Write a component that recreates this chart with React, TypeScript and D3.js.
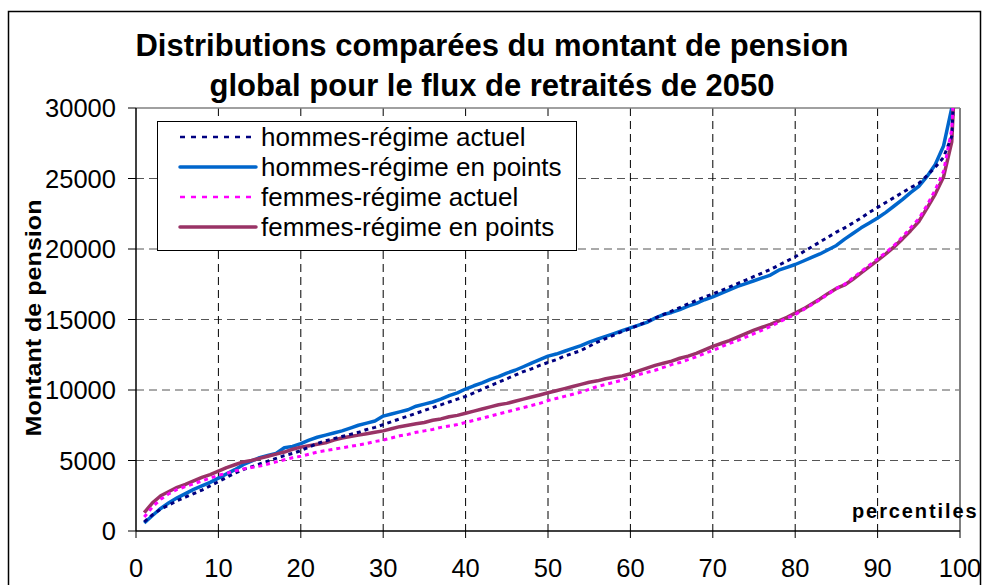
import React from "react";
import * as d3 from "d3";

const percentiles = [
  1, 2, 3, 4, 5, 6, 7, 8, 9, 10, 11, 12, 13, 14, 15, 16, 17, 18, 19, 20,
  21, 22, 23, 24, 25, 26, 27, 28, 29, 30, 31, 32, 33, 34, 35, 36, 37, 38, 39, 40,
  41, 42, 43, 44, 45, 46, 47, 48, 49, 50, 51, 52, 53, 54, 55, 56, 57, 58, 59, 60,
  61, 62, 63, 64, 65, 66, 67, 68, 69, 70, 71, 72, 73, 74, 75, 76, 77, 78, 79, 80,
  81, 82, 83, 84, 85, 86, 87, 88, 89, 90, 91, 92, 93, 94, 95, 96, 97, 98, 99, 100,
];

const hommesActuel = [
  650, 1150, 1550, 1850, 2150, 2400, 2650, 2900, 3200, 3500,
  3800, 4100, 4350, 4550, 4750, 4950, 5150, 5350, 5500, 5700,
  5950, 6200, 6400, 6550, 6700, 6850, 7000, 7200, 7350, 7550,
  7750, 7950, 8150, 8350, 8550, 8750, 8950, 9150, 9350, 9550,
  9800, 10050, 10300, 10550, 10800, 11050, 11300, 11500, 11750, 11950,
  12150, 12400, 12600, 12800, 13100, 13400, 13650, 13900, 14150, 14350,
  14600, 14850, 15100, 15350, 15600, 15850, 16100, 16350, 16600, 16800,
  17050, 17300, 17550, 17800, 18050, 18300, 18550, 18850, 19150, 19450,
  19800, 20150, 20500, 20850, 21200, 21500, 21850, 22200, 22600, 22950,
  23300, 23650, 24000, 24350, 24650, 25200, 25800, 26500, 28000, 40000,
];

const hommesPoints = [
  570, 1100, 1600, 2000, 2350, 2650, 2950, 3200, 3450, 3750,
  4050, 4350, 4700, 4950, 5200, 5350, 5500, 5900, 6000, 6200,
  6450, 6650, 6800, 6950, 7100, 7300, 7500, 7650, 7800, 8150,
  8300, 8450, 8600, 8850, 9000, 9150, 9350, 9600, 9800, 10070,
  10300, 10500, 10750, 10950, 11200, 11400, 11650, 11900, 12150, 12400,
  12550, 12750, 12950, 13150, 13400, 13600, 13800, 14000, 14200, 14400,
  14600, 14800, 15100, 15350, 15500, 15700, 15950, 16150, 16400, 16600,
  16850, 17100, 17350, 17550, 17750, 17950, 18150, 18500, 18700, 18900,
  19150, 19400, 19650, 19950, 20250, 20700, 21100, 21500, 21850, 22200,
  22600, 23050, 23500, 24000, 24450, 25150, 26000, 27300, 30000, 45000,
];

const femmesActuel = [
  990, 1700, 2250, 2650, 2950, 3150, 3350, 3550, 3750, 3950,
  4100, 4250, 4400, 4500, 4600, 4750, 4900, 5050, 5200, 5300,
  5450, 5600, 5700, 5800, 5900, 6000, 6100, 6200, 6350, 6450,
  6600, 6750, 6850, 7000, 7100, 7200, 7350, 7450, 7550, 7700,
  7850, 8000, 8150, 8300, 8450, 8600, 8750, 8900, 9050, 9250,
  9400, 9550, 9700, 9850, 10050, 10250, 10400, 10550, 10700, 10900,
  11100, 11250, 11400, 11600, 11800, 11950, 12150, 12350, 12600, 12800,
  13050, 13300, 13500, 13750, 14000, 14250, 14500, 14800, 15100, 15350,
  15700, 16050, 16400, 16800, 17200, 17500, 17950, 18400, 18850, 19300,
  19750, 20250, 20850, 21500, 22150, 23100, 24200, 25500, 28500, 40000,
];

const femmesPoints = [
  1300, 2000, 2500, 2800, 3100, 3300, 3550, 3800, 4000, 4250,
  4500, 4700, 4900, 5000, 5150, 5300, 5450, 5600, 5800, 5950,
  6050, 6150, 6250, 6450, 6600, 6700, 6800, 6900, 7000, 7100,
  7250, 7400, 7500, 7600, 7700, 7850, 7950, 8100, 8200, 8350,
  8500, 8650, 8800, 8950, 9050, 9200, 9350, 9500, 9650, 9800,
  9950, 10100, 10250, 10400, 10550, 10650, 10800, 10900, 11000, 11150,
  11350, 11550, 11750, 11900, 12050, 12250, 12400, 12600, 12850, 13100,
  13300, 13500, 13750, 14000, 14250, 14450, 14650, 14900, 15150, 15450,
  15750, 16100, 16450, 16850, 17200, 17450, 17850, 18300, 18750, 19200,
  19650, 20150, 20700, 21300, 21950, 22900, 23900, 25100, 27600, 40000,
];

const xTicks = [0, 10, 20, 30, 40, 50, 60, 70, 80, 90, 100];
const yTicks = [0, 5000, 10000, 15000, 20000, 25000, 30000];

const titleLines = [
  "Distributions comparées du montant de pension",
  "global pour le flux de retraités de 2050",
];
const yAxisTitle = "Montant de pension";
const xAxisTitle = "percentiles";

const seriesNames = [
  "hommes-régime actuel",
  "hommes-régime en points",
  "femmes-régime actuel",
  "femmes-régime en points",
];
const seriesValues = [hommesActuel, hommesPoints, femmesActuel, femmesPoints];
const seriesColors = ["#000080", "#0066CC", "#FF00FF", "#993366"];
const seriesDashed = [true, false, true, false];

const W = 983;
const H = 585;
const L = 136;
const R = 960;
const T = 108;
const B = 531;
const FONT = "Liberation Sans, Arial, sans-serif";

export default function App() {
  const x = d3.scaleLinear().domain([0, 100]).range([L, R]);
  const y = d3.scaleLinear().domain([0, 30000]).range([B, T]);
  const line = d3
    .line<number>()
    .x((_, i) => x(percentiles[i]))
    .y((d) => y(d));

  const drawOrder = [1, 3, 0, 2];

  return (
    <svg
      width={W}
      height={H}
      style={{ position: "absolute", left: 0, top: 0, background: "#fff" }}
      fontFamily={FONT}
    >
      <defs>
        <clipPath id="plotClip">
          <rect x={L} y={T} width={R - L + 4} height={B - T} />
        </clipPath>
      </defs>
      <rect x={0} y={0} width={W} height={H} fill="#fff" />
      <rect x={8.5} y={11.5} width={972} height={590} fill="none" stroke="#000" strokeWidth={1.5} />

      {titleLines.map((t, i) => (
        <text
          key={i}
          x={492}
          y={56 + i * 40}
          textAnchor="middle"
          fontWeight="bold"
          fontSize={31}
          fill="#000"
        >
          {t}
        </text>
      ))}

      {yTicks
        .filter((v) => v > 0 && v < 30000)
        .map((v) => (
          <line
            key={"hg" + v}
            x1={L}
            x2={R}
            y1={y(v)}
            y2={y(v)}
            stroke="#555"
            strokeWidth={1}
            strokeDasharray="8,5"
          />
        ))}
      {xTicks
        .filter((v) => v > 0 && v < 100)
        .map((v) => (
          <line
            key={"vg" + v}
            x1={x(v)}
            x2={x(v)}
            y1={T}
            y2={B}
            stroke="#000"
            strokeWidth={1}
            strokeDasharray="8,5"
          />
        ))}

      <line x1={L} x2={R} y1={T} y2={T} stroke="#808080" strokeWidth={1.5} />
      <line x1={R} x2={R} y1={T} y2={B} stroke="#808080" strokeWidth={2} />

      <line x1={L} x2={L} y1={T} y2={B} stroke="#000" strokeWidth={1.5} />
      <line x1={L} x2={R} y1={B} y2={B} stroke="#000" strokeWidth={1.5} />
      {yTicks.map((v) => (
        <g key={"yt" + v}>
          <line x1={L - 8} x2={L} y1={y(v)} y2={y(v)} stroke="#000" strokeWidth={1} />
          <text x={116} y={y(v) + 9} textAnchor="end" fontSize={25.5} fill="#000">
            {v}
          </text>
        </g>
      ))}
      {xTicks.map((v) => (
        <g key={"xt" + v}>
          <line x1={x(v)} x2={x(v)} y1={B} y2={B + 7} stroke="#000" strokeWidth={1} />
          <text x={x(v)} y={577} textAnchor="middle" fontSize={25.5} fill="#000">
            {v}
          </text>
        </g>
      ))}

      <text
        transform={`translate(41,318) rotate(-90)`}
        textAnchor="middle"
        fontWeight="bold"
        fontSize={22}
        fill="#000"
        textLength={237}
        lengthAdjust="spacingAndGlyphs"
      >
        {yAxisTitle}
      </text>
      <text
        x={852}
        y={518}
        fontWeight="bold"
        fontSize={20}
        fill="#000"
        letterSpacing={1.9}
      >
        {xAxisTitle}
      </text>

      <g clipPath="url(#plotClip)">
        {drawOrder.map((si) => (
          <path
            key={"s" + si}
            d={line(seriesValues[si]) || ""}
            fill="none"
            stroke={seriesColors[si]}
            strokeWidth={seriesDashed[si] ? 3 : 3.5}
            strokeDasharray={seriesDashed[si] ? "4,4" : undefined}
            strokeLinejoin="round"
          />
        ))}
      </g>

      <rect x={157.5} y={121.5} width={419} height={129} fill="#fff" stroke="#000" strokeWidth={1} />
      {seriesNames.map((n, i) => {
        const cy = 137 + i * 30;
        return (
          <g key={"lg" + i}>
            <line
              x1={180}
              x2={256}
              y1={cy}
              y2={cy}
              stroke={seriesColors[i]}
              strokeWidth={seriesDashed[i] ? 2.5 : 3.5}
              strokeDasharray={seriesDashed[i] ? "5,6" : undefined}
              strokeLinecap={seriesDashed[i] ? "butt" : "round"}
            />
            <text x={261} y={cy + 9} fontSize={26} fill="#000">
              {n}
            </text>
          </g>
        );
      })}
    </svg>
  );
}
